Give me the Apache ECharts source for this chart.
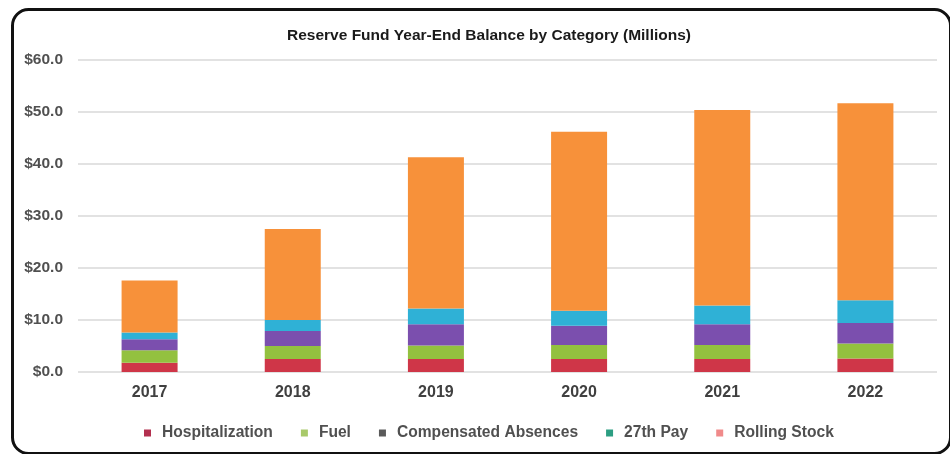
<!DOCTYPE html>
<html>
<head>
<meta charset="utf-8">
<style>
  html, body { margin: 0; padding: 0; background: #ffffff; }
  #chart { width: 950px; height: 454px; }
</style>
<script src="https://cdn.jsdelivr.net/npm/echarts@6/dist/echarts.min.js"></script>
</head>
<body>
<div id="chart"></div>
<script>
// Fiscal years on the category axis
const years = ['2017', '2018', '2019', '2020', '2021', '2022'];

// Year-end balances by reserve category, in millions of dollars
const hospitalization     = [1.8, 2.5, 2.5, 2.5, 2.5, 2.6];
const fuel                = [2.4, 2.5, 2.6, 2.7, 2.7, 2.9];
const compensatedAbsences = [2.1, 2.9, 4.1, 3.7, 4.0, 3.9];
const pay27th             = [1.3, 2.1, 3.0, 2.9, 3.6, 4.4];
const rollingStock        = [10.0, 17.5, 29.1, 34.4, 37.6, 37.9];

const seriesNames = ['Hospitalization', 'Fuel', 'Compensated Absences', '27th Pay', 'Rolling Stock'];
const seriesData = [hospitalization, fuel, compensatedAbsences, pay27th, rollingStock];
const barColors = ['#cf3648', '#93c13f', '#7b4fae', '#2fb1d6', '#f7913a'];
const legendColors = ['#b3304f', '#a8c96a', '#5a5a5a', '#2c9e82', '#f08a8a'];

const font = 'Liberation Sans, Arial, sans-serif';
const chart = echarts.init(document.getElementById('chart'), null, { renderer: 'canvas' });

chart.setOption({
  backgroundColor: '#ffffff',
  animation: false,
  title: {
    text: 'Reserve Fund Year-End Balance by Category (Millions)',
    left: 484,
    textAlign: 'center',
    top: 23,
    textStyle: { fontFamily: font, fontSize: 15.5, fontWeight: 'bold', color: '#1a1a1a' }
  },
  grid: { left: 78, right: 13, top: 60, bottom: 82, containLabel: false },
  legend: {
    left: 139,
    top: 420,
    itemWidth: 7,
    itemHeight: 7,
    itemGap: 28,
    icon: 'rect',
    textStyle: { fontFamily: font, fontSize: 15.6, fontWeight: 'bold', color: '#505050', padding: [0, 0, 0, 6] },
    data: seriesNames.map((n, i) => ({ name: n, itemStyle: { color: legendColors[i] } }))
  },
  xAxis: {
    type: 'category',
    data: years,
    axisLine: { show: false },
    axisTick: { show: false },
    axisLabel: { fontFamily: font, fontSize: 16, fontWeight: 'bold', color: '#404040', margin: 13 }
  },
  yAxis: {
    type: 'value',
    min: 0,
    max: 60,
    interval: 10,
    axisLine: { show: false },
    axisTick: { show: false },
    splitLine: { lineStyle: { color: '#d8d8d8', width: 1.5 } },
    axisLabel: {
      fontFamily: font, fontSize: 15.5, fontWeight: 'bold', color: '#505050', margin: 15,
      formatter: v => '$' + v.toFixed(1)
    }
  },
  series: seriesNames.map((n, i) => ({
    name: n,
    type: 'bar',
    stack: 'total',
    barWidth: 56,
    itemStyle: { color: barColors[i] },
    data: seriesData[i]
  })),
  graphic: [{
    type: 'rect',
    left: 10,
    top: 7,
    shape: { width: 938, height: 444, r: 16 },
    style: { fill: 'none', stroke: '#111111', lineWidth: 3 },
    silent: true,
    z: 100
  }]
});
</script>
</body>
</html>
